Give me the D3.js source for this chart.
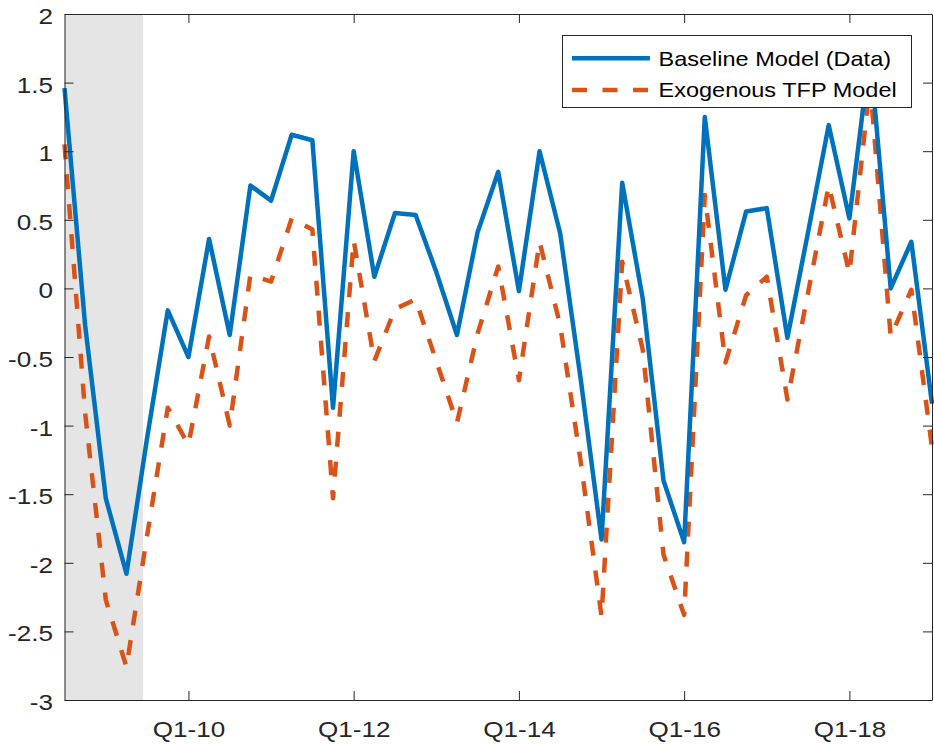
<!DOCTYPE html>
<html>
<head>
<meta charset="utf-8">
<script src="https://cdn.jsdelivr.net/npm/d3@7"></script>
<style>
  html, body { margin: 0; padding: 0; background: #fff; }
  svg { display: block; }
  text { font-family: "Liberation Sans", Arial, Helvetica, sans-serif; }
</style>
</head>
<body>
<svg id="chart" width="934" height="744"></svg>
<script>
// Quarterly observations, Q3-08 .. Q1-19
const quarters = [
  "Q3-08","Q4-08","Q1-09","Q2-09","Q3-09","Q4-09",
  "Q1-10","Q2-10","Q3-10","Q4-10","Q1-11","Q2-11","Q3-11","Q4-11",
  "Q1-12","Q2-12","Q3-12","Q4-12","Q1-13","Q2-13","Q3-13","Q4-13",
  "Q1-14","Q2-14","Q3-14","Q4-14","Q1-15","Q2-15","Q3-15","Q4-15",
  "Q1-16","Q2-16","Q3-16","Q4-16","Q1-17","Q2-17","Q3-17","Q4-17",
  "Q1-18","Q2-18","Q3-18","Q4-18","Q1-19"
];

const baseline = [
  1.46, -0.27, -1.53, -2.08, -1.09, -0.16,
  -0.50, 0.36, -0.34, 0.75, 0.64, 1.12, 1.08, -0.87,
  1.00, 0.085, 0.55, 0.535, 0.12, -0.34, 0.41, 0.85,
  -0.02, 1.00, 0.40, -0.67, -1.83, 0.77, -0.08, -1.40,
  -1.85, 1.25, -0.01, 0.56, 0.585, -0.36, 0.41, 1.19,
  0.51, 1.72, 0.00, 0.34, -0.84
];

const exogenousTFP = [
  1.05, -0.91, -2.27, -2.76, -1.80, -0.87,
  -1.14, -0.35, -1.00, 0.10, 0.05, 0.51, 0.43, -1.53,
  0.35, -0.53, -0.15, -0.08, -0.53, -0.98, -0.33, 0.16,
  -0.67, 0.34, -0.27, -1.27, -2.39, 0.195, -0.45, -1.94,
  -2.38, 0.68, -0.54, -0.05, 0.085, -0.81, -0.03, 0.75,
  0.11, 1.50, -0.35, -0.01, -1.16
];

const xTickLabels = ["Q1-10", "Q1-12", "Q1-14", "Q1-16", "Q1-18"];
const yTickValues = [-3, -2.5, -2, -1.5, -1, -0.5, 0, 0.5, 1, 1.5, 2];
const yTickLabels = ["-3", "-2.5", "-2", "-1.5", "-1", "-0.5", "0", "0.5", "1", "1.5", "2"];

// Shaded recession span, in quarter positions from the first observation
const recession = [0, 3.8];

const seriesNames = ["Baseline Model (Data)", "Exogenous TFP Model"];
const seriesColors = ["#0072BD", "#D95319"];

(function draw() {
  // ---- layout
  const plotLeft = 64.5, plotRight = 932, plotTop = 14, plotBottom = 700;
  const axisColor = "#262626";
  const tickLen = 9;
  const textStretch = 1.16;
  const lineWidth = 4.5;

  const svg = d3.select("#chart");

  const x = d3.scaleLinear().domain([0, quarters.length - 1]).range([plotLeft, plotRight]);
  const y = d3.scaleLinear().domain([-3, 2]).range([plotBottom, plotTop]);

  // recession band
  svg.append("rect")
    .attr("x", x(recession[0]))
    .attr("y", plotTop)
    .attr("width", x(recession[1]) - x(recession[0]))
    .attr("height", plotBottom - plotTop)
    .attr("fill", "#e5e5e5");

  // series lines
  const line = d3.line()
    .x((d, i) => x(i))
    .y(d => y(d));

  svg.append("path")
    .datum(exogenousTFP)
    .attr("d", line)
    .attr("fill", "none")
    .attr("stroke", seriesColors[1])
    .attr("stroke-width", lineWidth)
    .attr("stroke-dasharray", "15,15")
    .attr("stroke-linejoin", "round");

  svg.append("path")
    .datum(baseline)
    .attr("d", line)
    .attr("fill", "none")
    .attr("stroke", seriesColors[0])
    .attr("stroke-width", lineWidth)
    .attr("stroke-linejoin", "round");

  // ---- axes (box with inward ticks on all four sides)
  const xTickValues = xTickLabels.map(l => quarters.indexOf(l));

  function styleAxis(g) {
    g.selectAll("path.domain").attr("stroke", axisColor).attr("stroke-width", 1);
    g.selectAll(".tick line").attr("stroke", axisColor).attr("stroke-width", 1);
    g.selectAll(".tick text")
      .attr("fill", axisColor)
      .style("font-size", "22.5px")
      .style("font-family", "'Liberation Sans', Arial, Helvetica, sans-serif");
  }

  const gx = svg.append("g")
    .attr("transform", `translate(0,${plotBottom})`)
    .call(d3.axisBottom(x).tickValues(xTickValues)
      .tickFormat(d => quarters[d])
      .tickSizeInner(-tickLen).tickSizeOuter(0).tickPadding(21));
  styleAxis(gx);
  gx.selectAll(".tick text").attr("transform", `scale(${textStretch},1)`);

  const gy = svg.append("g")
    .attr("transform", `translate(${plotLeft},0)`)
    .call(d3.axisLeft(y).tickValues(yTickValues)
      .tickFormat((d, i) => yTickLabels[i])
      .tickSizeInner(-tickLen).tickSizeOuter(0).tickPadding(11.5 / textStretch));
  styleAxis(gy);
  gy.selectAll(".tick text")
    .attr("dy", "0.42em")
    .attr("transform", `scale(${textStretch},1)`);

  const gt = svg.append("g")
    .attr("transform", `translate(0,${plotTop})`)
    .call(d3.axisTop(x).tickValues(xTickValues).tickFormat("")
      .tickSizeInner(-tickLen).tickSizeOuter(0));
  styleAxis(gt);

  const gr = svg.append("g")
    .attr("transform", `translate(${plotRight},0)`)
    .call(d3.axisRight(y).tickValues(yTickValues).tickFormat("")
      .tickSizeInner(-tickLen).tickSizeOuter(0));
  styleAxis(gr);

  // ---- legend
  const legend = svg.append("g");
  legend.append("rect")
    .attr("x", 562.5).attr("y", 35.5)
    .attr("width", 349).attr("height", 72)
    .attr("fill", "#fff")
    .attr("stroke", axisColor)
    .attr("stroke-width", 1);

  const rowsY = [58.3, 90];
  seriesNames.forEach((name, i) => {
    legend.append("line")
      .attr("x1", 572).attr("x2", 650)
      .attr("y1", rowsY[i]).attr("y2", rowsY[i])
      .attr("stroke", seriesColors[i])
      .attr("stroke-width", lineWidth)
      .attr("stroke-dasharray", i === 1 ? "15,15.5" : null);
    legend.append("text")
      .attr("transform", `translate(658.5,${rowsY[i] + 7.3}) scale(1.12,1)`)
      .attr("fill", "#000")
      .style("font-size", "21px")
      .text(name);
  });
})();
</script>
</body>
</html>
